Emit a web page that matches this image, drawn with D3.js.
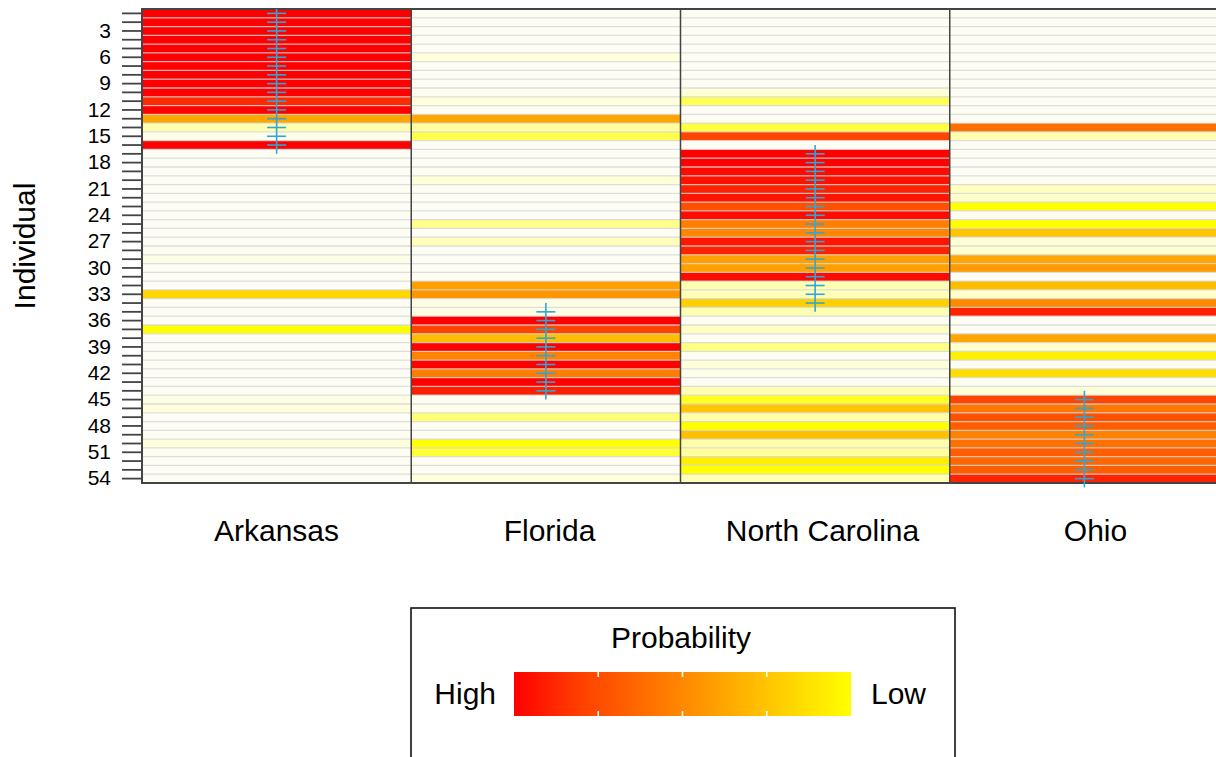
<!DOCTYPE html>
<html>
<head>
<meta charset="utf-8">
<script src="https://cdn.jsdelivr.net/npm/d3@7"></script>
<style>
	body { margin: 0; background: #fff; }
	svg { display: block; font-family: "Liberation Sans", Arial, sans-serif; }
</style>
</head>
<body>
<main></main>
<script>
// states (columns) and individuals (rows)
const states = ["Arkansas", "Florida", "North Carolina", "Ohio"];
const individuals = [1, 2, 3, 4, 5, 6, 7, 8, 9, 10, 11, 12, 13, 14, 15, 16, 17, 18,
	19, 20, 21, 22, 23, 24, 25, 26, 27, 28, 29, 30, 31, 32, 33, 34, 35, 36,
	37, 38, 39, 40, 41, 42, 43, 44, 45, 46, 47, 48, 49, 50, 51, 52, 53, 54];
const tickLabels = [3, 6, 9, 12, 15, 18, 21, 24, 27, 30, 33, 36, 39, 42, 45, 48, 51, 54];

// assignment probability per individual, one array per state
const arkansas = [1, 1, 1, 1, 1, 1, 1, 1, 1, 1, 0.9, 1, 0.53, 0.08, 0.01, 1, 0, 0,
	0, 0, 0, 0, 0, 0, 0, 0, 0, 0, 0.02, 0, 0, 0, 0.38, 0, 0, 0,
	0.25, 0, 0, 0, 0, 0, 0, 0, 0.02, 0.03, 0, 0, 0, 0.03, 0, 0, 0, 0];
const florida = [0, 0, 0, 0, 0, 0.03, 0, 0, 0, 0, 0.03, 0, 0.53, 0.1, 0.18, 0, 0, 0,
	0, 0.035, 0, 0, 0, 0, 0.12, 0, 0.07, 0, 0, 0, 0, 0.55, 0.58, 0.02, 0.02, 1,
	0.84, 0.46, 1, 0.64, 1, 0.66, 1, 0.93, 0, 0.01, 0.14, 0, 0, 0.25, 0.2, 0, 0, 0.03];
const northCarolina = [0, 0, 0, 0, 0, 0, 0, 0, 0, 0.035, 0.17, 0, 0, 0.19, 0.84, 0, 1, 1,
	0.98, 0.96, 0.92, 0.95, 0.8, 0.98, 0.66, 0.63, 0.95, 0.92, 0.55, 0.55, 0.98, 0.08, 0.07, 0.4, 0.08, 0,
	0.06, 0, 0.13, 0, 0.03, 0.01, 0, 0.08, 0.22, 0.43, 0.09, 0.25, 0.45, 0.09, 0.1, 0.3, 0.25, 0.075];
const ohio = [0, 0, 0, 0, 0, 0, 0, 0, 0, 0, 0, 0, 0, 0.7, 0.08, 0, 0, 0,
	0, 0, 0.065, 0.05, 0.25, 0, 0.25, 0.43, 0.035, 0.045, 0.53, 0.57, 0, 0.46, 0.05, 0.62, 0.92, 0,
	0, 0.53, 0.05, 0.3, 0, 0.36, 0, 0.035, 0.84, 0.68, 0.8, 0.76, 0.64, 0.7, 0.76, 0.73, 0.76, 0.92];
const seriesByState = [arkansas, florida, northCarolina, ohio];

// known origin of each group of individuals
const originState = ["Arkansas", "North Carolina", "Florida", "Ohio"];
const originFirst = [1, 17, 35, 45];
const originLast = [16, 34, 44, 54];

const W = 1216, H = 757;
const svg = d3.select("main").append("svg").attr("width", W).attr("height", H);

const xScale = d3.scaleBand().domain(states).range([142, 1219]);
const labelScale = d3.scaleBand().domain(states).range([140, 1232]);
const yScale = d3.scaleBand().domain(individuals).range([9, 483]);
const rowH = yScale.bandwidth();

const color = d3.scaleLinear()
	.domain([0, 0.03, 0.1, 0.25, 0.4, 0.55, 0.7, 0.85, 1])
	.range(["#fdfdf3", "#ffffdc", "#ffffa0", "#ffff00", "#ffd000", "#ffa000", "#ff7000", "#ff4000", "#ff0000"])
	.clamp(true);

const cells = [];
states.forEach((s, j) => {
	individuals.forEach((ind, i) => cells.push({ state: s, ind: ind, p: seriesByState[j][i] }));
});

const chart = svg.append("g");

chart.selectAll(".cell")
	.data(cells)
	.enter()
	.append("rect")
	.attr("class", "cell")
	.attr("x", (d) => xScale(d.state))
	.attr("y", (d) => yScale(d.ind))
	.attr("width", xScale.bandwidth())
	.attr("height", rowH)
	.attr("fill", (d) => color(d.p));

// row separators
chart.selectAll(".sep")
	.data(individuals.slice(1))
	.enter()
	.append("line")
	.attr("x1", xScale.range()[0])
	.attr("x2", xScale.range()[1])
	.attr("y1", (d) => yScale(d))
	.attr("y2", (d) => yScale(d))
	.attr("stroke", "#d6d6d6")
	.attr("stroke-opacity", 0.8)
	.attr("stroke-width", 1.3);

// column borders
chart.selectAll(".colsep")
	.data(states)
	.enter()
	.append("line")
	.attr("x1", (d) => xScale(d))
	.attr("x2", (d) => xScale(d))
	.attr("y1", yScale.range()[0])
	.attr("y2", yScale.range()[1])
	.attr("stroke", "#444")
	.attr("stroke-width", 1.5);

chart.append("rect")
	.attr("x", xScale.range()[0])
	.attr("y", yScale.range()[0])
	.attr("width", xScale.range()[1] - xScale.range()[0])
	.attr("height", yScale.range()[1] - yScale.range()[0])
	.attr("fill", "none")
	.attr("stroke", "#444")
	.attr("stroke-width", 2);

// origin markers
const markColor = "#2fa6d6";
originState.forEach((s, k) => {
	const cx = xScale(s) + xScale.bandwidth() / 2;
	const members = individuals.filter((d) => d >= originFirst[k] && d <= originLast[k]);
	const yTop = Math.max(yScale.range()[0], yScale(originFirst[k]) + rowH / 2 - rowH);
	const yBot = yScale(originLast[k]) + rowH / 2 + rowH;
	chart.append("line")
		.attr("x1", cx).attr("x2", cx)
		.attr("y1", yTop).attr("y2", yBot)
		.attr("stroke", markColor)
		.attr("stroke-width", 1.6);
	chart.selectAll(null)
		.data(members)
		.enter()
		.append("line")
		.attr("x1", cx - 9.5)
		.attr("x2", cx + 9.5)
		.attr("y1", (d) => yScale(d) + rowH / 2)
		.attr("y2", (d) => yScale(d) + rowH / 2)
		.attr("stroke", markColor)
		.attr("stroke-width", 1.6);
});

// y axis
const yAxis = chart.append("g")
	.attr("transform", `translate(${xScale.range()[0]},0)`)
	.call(d3.axisLeft(yScale)
		.tickValues(individuals)
		.tickSize(20)
		.tickPadding(11)
		.tickFormat((d) => tickLabels.includes(d) ? d : ""));
yAxis.select(".domain").remove();
yAxis.selectAll(".tick line").attr("stroke", "#444").attr("stroke-width", 1.8);
yAxis.selectAll(".tick text")
	.attr("fill", "#000")
	.style("font-size", "21px");

svg.append("text")
	.attr("transform", `translate(35, ${(yScale.range()[0] + yScale.range()[1]) / 2}) rotate(-90)`)
	.attr("text-anchor", "middle")
	.style("font-size", "30px")
	.attr("fill", "#000")
	.text("Individual");

// state labels
svg.selectAll(".xlab")
	.data(states)
	.enter()
	.append("text")
	.attr("class", "xlab")
	.attr("x", (d) => labelScale(d) + labelScale.bandwidth() / 2)
	.attr("y", 541)
	.attr("text-anchor", "middle")
	.style("font-size", "30px")
	.attr("fill", "#000")
	.text((d) => d);

// legend
const legend = svg.append("g");
legend.append("rect")
	.attr("x", 411).attr("y", 608)
	.attr("width", 544).attr("height", 170)
	.attr("fill", "#fff")
	.attr("stroke", "#111")
	.attr("stroke-width", 1.6);

legend.append("text")
	.attr("x", 681).attr("y", 648)
	.attr("text-anchor", "middle")
	.style("font-size", "30px")
	.attr("fill", "#000")
	.text("Probability");

const grad = svg.append("defs").append("linearGradient").attr("id", "heat");
const gradStops = [1, 0.85, 0.7, 0.55, 0.4, 0.25];
grad.selectAll("stop")
	.data(gradStops)
	.enter()
	.append("stop")
	.attr("offset", (d, i) => i / (gradStops.length - 1))
	.attr("stop-color", (d) => color(d));

const lgScale = d3.scaleLinear().domain([0, 4]).range([514, 851]);
legend.append("rect")
	.attr("x", lgScale(0)).attr("y", 672)
	.attr("width", lgScale(4) - lgScale(0)).attr("height", 44)
	.attr("fill", "url(#heat)");
legend.selectAll(".lgtick")
	.data([1, 2, 3])
	.enter()
	.append("path")
	.attr("d", (d) => `M${lgScale(d)},672v5M${lgScale(d)},716v-5`)
	.attr("stroke", "#fff")
	.attr("stroke-width", 1.5);

legend.append("text")
	.attr("x", 496).attr("y", 704)
	.attr("text-anchor", "end")
	.style("font-size", "30px")
	.attr("fill", "#000")
	.text("High");
legend.append("text")
	.attr("x", 871).attr("y", 704)
	.style("font-size", "30px")
	.attr("fill", "#000")
	.text("Low");
</script>
</body>
</html>
